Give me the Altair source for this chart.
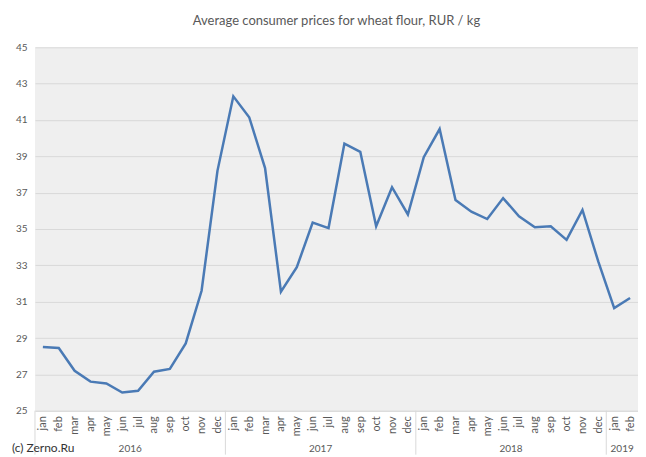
import json
import altair as alt
import pandas as pd

months = ["jan", "feb", "mar", "apr", "may", "jun", "jul", "aug", "sep", "oct", "nov", "dec"]
years = [2016] * 12 + [2017] * 12 + [2018] * 12 + [2019] * 2
prices = [28.5, 28.45, 27.2, 26.6, 26.5, 26.0, 26.1, 27.15, 27.3, 28.7, 31.6, 38.2,
          42.3, 41.15, 38.35, 31.55, 32.9, 35.35, 35.05, 39.7, 39.25, 35.15, 37.3, 35.8,
          38.95, 40.5, 36.6, 35.95, 35.55, 36.7, 35.7, 35.1, 35.15, 34.4, 36.05, 33.2,
          30.65, 31.2]
y_ticks = list(range(25, 46, 2))
title_text = "Average consumer prices for wheat flour, RUR / kg"
footer_text = "(c) Zerno.Ru"

W, H = 604, 364
BOT = 44
FONT = "Lato"
GRAY = "#595959"

n = len(prices)
df = pd.DataFrame({
    "idx": list(range(n)),
    "month": [months[i % 12] for i in range(n)],
    "year": years,
    "price": prices,
})
grp = df.groupby("year")["idx"].agg(["min", "max"]).reset_index()
grp["start"] = grp["min"] - 0.5
grp["center"] = (grp["min"] + grp["max"]) / 2
grp["label"] = grp["year"].astype(str)

xscale = alt.Scale(domain=[-0.5, n - 0.5], nice=False, zero=False)
label_expr = json.dumps(months) + "[datum.value % 12]"
xaxis = alt.Axis(
    values=list(range(n)), labelExpr=label_expr, labelAngle=-90,
    labelFontSize=11, labelColor=GRAY, labelFont=FONT, ticks=False,
    domainColor="#d9d9d9", grid=False, labelPadding=5, title=None,
    labelOverlap=False, labelBound=False, labelFlush=False)

line = alt.Chart(df).mark_line(color="#4a7ab5", strokeWidth=2.5).encode(
    x=alt.X("idx:Q", scale=xscale, axis=xaxis),
    y=alt.Y("price:Q", scale=alt.Scale(domain=[25, 45], nice=False, zero=False),
            axis=alt.Axis(values=y_ticks, grid=True, gridColor="#d9d9d9",
                          domain=False, ticks=False, labelColor=GRAY,
                          labelFontSize=10, labelFont=FONT, labelPadding=8,
                          title=None)),
)

seps = alt.Chart(grp).mark_rule(color="#d9d9d9", strokeWidth=1).encode(
    x=alt.X("start:Q", scale=xscale, axis=xaxis),
    y=alt.value(H),
    y2=alt.value(H + BOT),
)

year_txt = alt.Chart(grp).mark_text(fontSize=10, color=GRAY, font=FONT,
                                    baseline="middle").encode(
    x=alt.X("center:Q", scale=xscale, axis=xaxis),
    y=alt.value(H + 38),
    text="label:N",
)

footer = alt.Chart(pd.DataFrame({"t": [footer_text]})).mark_text(
    fontSize=12, color="#333333", font=FONT, align="left", baseline="middle"
).encode(x=alt.value(-23), y=alt.value(H + 37), text="t:N")

chart = alt.layer(line, seps, year_txt, footer).properties(
    width=W, height=H,
    title=alt.TitleParams(title_text, fontSize=13, color=GRAY, font=FONT,
                          fontWeight="normal", offset=14, anchor="middle"),
    autosize=alt.AutoSizeParams(type="none"),
    padding={"left": 27, "top": 39, "right": 0, "bottom": BOT},
).configure_view(fill="#efefef", strokeWidth=0)

chart.save("out.html", embed_options={"renderer": "svg", "actions": False})
